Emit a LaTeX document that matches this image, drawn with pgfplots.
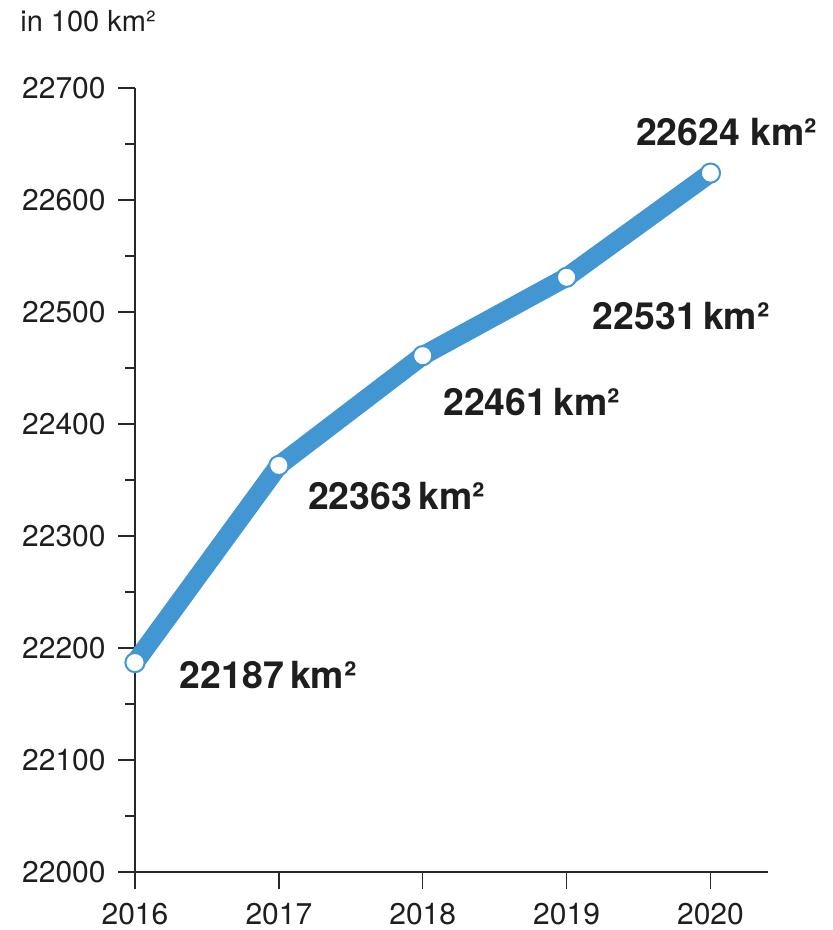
\documentclass[border=0pt]{standalone}
\usepackage{fontspec}
\setmainfont{TeX Gyre Heros}
\usepackage{pgfplots}
\pgfplotsset{compat=1.18}
\definecolor{lineblue}{RGB}{66,151,211}
\definecolor{axisgray}{RGB}{40,40,40}
\definecolor{txt}{RGB}{30,30,30}
\begin{document}
\begin{tikzpicture}
\path[use as bounding box] (-67.5pt,-29pt) rectangle (349pt,436pt);
\begin{axis}[
    at={(0,0)}, anchor=south west,
    scale only axis,
    width=316.5pt, height=392pt,
    xmin=2016, xmax=2020.4, ymin=22000, ymax=22700,
    enlargelimits=false,
    clip=false,
    axis lines*=left,
    axis line style={axisgray, line width=0.7pt},
    xtick={2016,2017,2018,2019,2020},
    ytick={22000,22100,...,22700},
    minor ytick={22050,22150,...,22650},
    scaled x ticks=false,
    scaled y ticks=false,
    tick align=outside,
    tick style={axisgray, line width=0.7pt},
    major tick length=8.5pt,
    minor tick length=5pt,
    xticklabel style={inner sep=0pt, yshift=-7pt, text=txt},
    yticklabel style={inner sep=0pt, xshift=-6pt, text=txt},
    ticklabel style={font=\fontsize{15}{18}\selectfont},
    /pgf/number format/assume math mode=true,
    /pgf/number format/fixed,
    /pgf/number format/precision=0,
    /pgf/number format/1000 sep={},
]
\addplot[lineblue, line width=9.5pt, line join=round, line cap=round,
    mark=*, mark size=4.8pt,
    mark options={fill=white, draw=lineblue, line width=1pt}]
    coordinates {(2016,22187)(2017,22363)(2018,22461)(2019,22531)(2020,22624)};
\begin{scope}[every node/.style={anchor=base west, inner sep=0pt, text=txt,
    font=\fontsize{18.7}{22}\selectfont\bfseries}]
\node at (axis cs:2016.31,22164) {22187\,km²};
\node at (axis cs:2017.20,22324) {22363\,km²};
\node at (axis cs:2018.14,22408) {22461\,km²};
\node at (axis cs:2019.18,22484) {22531\,km²};
\node at (axis cs:2019.48,22649) {22624 km²};
\end{scope}
\node[anchor=base west, inner sep=0pt, text=txt, font=\fontsize{14.5}{17}\selectfont]
    at ([shift={(-57.5pt,420pt)}]rel axis cs:0,0) {in 100 km²};
\end{axis}
\end{tikzpicture}
\end{document}
